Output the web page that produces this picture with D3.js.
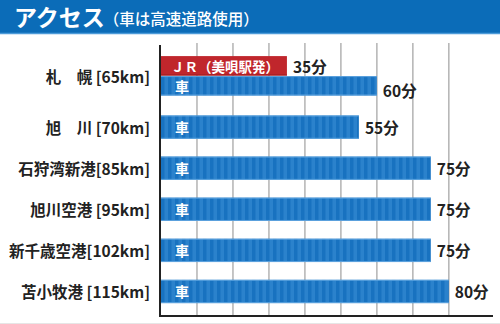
<!DOCTYPE html>
<html><head><meta charset="utf-8">
<script src="https://cdn.jsdelivr.net/npm/d3@7"></script>
<style>
html,body{margin:0;padding:0;background:#fff;}
svg{display:block;font-family:"Noto Sans CJK JP","Noto Sans",sans-serif;}
</style></head>
<body><svg id="c" width="500" height="324"></svg>
<script>
const titleMain = "アクセス";
const titleSub = "（車は高速道路使用）";
const categories = ["札　幌 [65km]", "旭　川 [70km]", "石狩湾新港[85km]", "旭川空港 [95km]", "新千歳空港[102km]", "苫小牧港 [115km]"];
const jrMinutes = [35, null, null, null, null, null];
const carMinutes = [60, 55, 75, 75, 75, 80];
const jrLabel = "ＪＲ（美唄駅発）";
const carLabel = "車";
const unitLabel = "分";
const xTicks = [10, 20, 30, 40, 50, 60, 70, 80];
const xMax = 92;

const svg = d3.select("#c");
const defs = svg.append("defs");
const pat = defs.append("pattern").attr("id","stripe").attr("patternUnits","userSpaceOnUse")
  .attr("width",7).attr("height",10);
pat.append("rect").attr("width",7).attr("height",10).attr("fill","#1872c0");
pat.append("rect").attr("x",3.5).attr("width",3.5).attr("height",10).attr("fill","#2b82cc");

// title bar
svg.append("rect").attr("x",0).attr("y",0).attr("width",500).attr("height",33).attr("fill","#0b6cb8");
svg.append("line").attr("x1",0).attr("x2",500).attr("y1",33.5).attr("y2",33.5).attr("stroke","#4d9bd9").attr("stroke-width",1.5);
const tt = svg.append("text").attr("x",14).attr("y",26).attr("fill","#fff");
tt.append("tspan").attr("font-size",23).attr("font-weight","bold").text(titleMain);
tt.append("tspan").attr("font-size",15.5).attr("font-weight","500").attr("dx",-1).attr("dy",-1).text(titleSub);

// layout
const rows = categories.map((c,i)=>({cat:c, jr:jrMinutes[i], car:carMinutes[i]}));
let acc = 0;
rows.forEach(r=>{ r.n = r.jr!=null ? 2 : 1; r.w = r.n===2 ? 1.5 : 1; r.start = acc; acc += r.w; });
const y = d3.scaleLinear().domain([0, acc]).range([45, 312]);
const x = d3.scaleLinear().domain([0, xMax]).range([161, 492]);

const plotTop = 43, plotBottom = 316;
// grid
svg.append("g").selectAll("line").data(xTicks).join("line")
  .attr("x1",d=>x(d)).attr("x2",d=>x(d)).attr("y1",plotTop).attr("y2",plotBottom)
  .attr("stroke","#b3b3b3").attr("stroke-width",1.5);

const g = svg.append("g");
rows.forEach(r=>{
  const top = y(r.start), bot = y(r.start + r.w);
  const mid = (top+bot)/2;
  const h = (bot-top) * (r.n===2 ? 0.64 : 0.585);
  const keys = r.n===2 ? ["jr","car"] : ["car"];
  const band = d3.scaleBand().domain(keys).range([mid-h/2, mid+h/2]).paddingInner(0.03);
  // category label
  g.append("text").attr("x",150).attr("y",mid).attr("text-anchor","end").attr("dominant-baseline","central")
    .attr("font-size",15.5).attr("font-weight","bold").attr("fill","#222").text(r.cat);
  keys.forEach(k=>{
    const v = r[k];
    const by = band(k), bh = band.bandwidth();
    if(k==="car"){
      g.append("rect").attr("x",x(0)).attr("y",by).attr("width",x(v)-x(0)).attr("height",bh).attr("fill","url(#stripe)");
      g.append("line").attr("x1",x(0)).attr("x2",x(v)).attr("y1",by+0.5).attr("y2",by+0.5).attr("stroke","#5da3de").attr("stroke-width",1);
      g.append("line").attr("x1",x(0)).attr("x2",x(v)).attr("y1",by+bh-0.5).attr("y2",by+bh-0.5).attr("stroke","#5da3de").attr("stroke-width",1);
      g.append("text").attr("x",x(0)+14).attr("y",by+bh/2).attr("dominant-baseline","central")
        .attr("font-size",14).attr("font-weight","bold").attr("fill","#fff").text(carLabel);
    } else {
      g.append("rect").attr("x",x(0)).attr("y",by).attr("width",x(v)-x(0)).attr("height",bh).attr("fill","#c0262c");
      g.append("line").attr("x1",x(0)).attr("x2",x(v)).attr("y1",by+bh-0.5).attr("y2",by+bh-0.5).attr("stroke","#9c1a20").attr("stroke-width",1);
      g.append("text").attr("x",x(0)+10).attr("y",by+bh/2).attr("dominant-baseline","central")
        .attr("font-size",13.5).attr("font-weight","bold").attr("fill","#fff").text(jrLabel);
    }
    g.append("text").attr("x",x(v)+6).attr("y",by+bh/2 + (k==="car" && r.n===2 ? 4 : 0)).attr("dominant-baseline","central")
      .attr("font-size",15.5).attr("font-weight","bold").attr("fill","#222").text(v + unitLabel);
  });
});

// axes
svg.append("line").attr("x1",160).attr("x2",160).attr("y1",45).attr("y2",plotBottom+1).attr("stroke","#222").attr("stroke-width",2);
svg.append("line").attr("x1",159).attr("x2",493).attr("y1",plotBottom).attr("y2",plotBottom).attr("stroke","#222").attr("stroke-width",2);
svg.append("line").attr("x1",0).attr("x2",500).attr("y1",323.5).attr("y2",323.5).attr("stroke","#e6e6e6").attr("stroke-width",1);
</script></body></html>
